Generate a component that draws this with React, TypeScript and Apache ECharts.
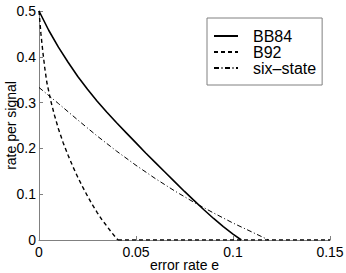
import React, { useEffect, useRef } from "react";
import * as echarts from "echarts";

// error rate e (x) and rate per signal (y)
const bb84X = [0, 0.005, 0.01, 0.015, 0.02, 0.025, 0.03, 0.035, 0.04, 0.045, 0.05, 0.055, 0.06, 0.065, 0.07, 0.075, 0.08, 0.085, 0.09, 0.095, 0.1, 0.1043];
const bb84Y = [0.5, 0.458, 0.421, 0.388, 0.357, 0.329, 0.303, 0.279, 0.256, 0.234, 0.212, 0.19, 0.169, 0.148, 0.127, 0.106, 0.086, 0.066, 0.047, 0.029, 0.013, 0];

const b92X = [0, 0.001, 0.002, 0.003, 0.004, 0.006, 0.008, 0.01, 0.0125, 0.015, 0.0175, 0.02, 0.0225, 0.025, 0.0275, 0.03, 0.0325, 0.035, 0.0375, 0.0407];
const b92Y = [0.5, 0.45, 0.41, 0.375, 0.345, 0.305, 0.272, 0.243, 0.212, 0.185, 0.16, 0.137, 0.116, 0.096, 0.077, 0.06, 0.044, 0.03, 0.016, 0];
const b92ZeroX = [0.0407, 0.15];
const b92ZeroY = [0, 0];

const sixX = [0, 0.01, 0.02, 0.03, 0.04, 0.05, 0.06, 0.07, 0.08, 0.09, 0.1, 0.11, 0.1184];
const sixY = [0.333, 0.298, 0.262, 0.227, 0.194, 0.163, 0.134, 0.107, 0.082, 0.059, 0.037, 0.017, 0];

const seriesNames = ["BB84", "B92", "six\u2013state"];
const xTicks = ["0", "0.05", "0.1", "0.15"];
const yTicks = ["0", "0.1", "0.2", "0.3", "0.4", "0.5"];

const zip = (xs: number[], ys: number[]) => xs.map((x, i) => [x, ys[i]]);

export default function App() {
  const ref = useRef<HTMLDivElement>(null);
  useEffect(() => {
    document.body.style.margin = "0";
    if (!ref.current) return;
    const chart = echarts.init(ref.current, null, { renderer: "svg" });
    const font = "'Liberation Sans', Arial, Helvetica, sans-serif";
    const axisColor = "#808080";
    const b92Style = { color: "#000", width: 1.4, type: [4, 3] };
    chart.setOption({
      animation: false,
      backgroundColor: "#ffffff",
      textStyle: { fontFamily: font },
      grid: {
        left: 39,
        right: 16,
        top: 11,
        bottom: 33,
        containLabel: false,
        outerBoundsMode: "none",
      },
      legend: {
        orient: "vertical",
        left: 207,
        top: 18,
        padding: [10, 6, 9, 6],
        itemWidth: 24,
        itemHeight: 14,
        itemGap: 0,
        borderColor: "#808080",
        borderWidth: 1,
        backgroundColor: "#ffffff",
        itemStyle: { opacity: 0 },
        textStyle: {
          fontSize: 16,
          lineHeight: 15,
          color: "#000",
          fontFamily: font,
          padding: [0, 0, 0, 10],
        },
        data: seriesNames,
      },
      xAxis: {
        type: "value",
        min: 0,
        max: 0.15,
        interval: 0.05,
        name: "error rate e",
        nameLocation: "middle",
        nameGap: 18,
        nameMoveOverlap: false,
        nameTextStyle: { fontSize: 14, color: "#000", fontFamily: font },
        axisLine: { lineStyle: { color: axisColor, width: 1 } },
        axisTick: { inside: true, length: 4, lineStyle: { color: axisColor } },
        axisLabel: {
          fontSize: 14,
          color: "#000",
          margin: 5,
          formatter: (v: number) => xTicks[Math.round(v / 0.05)] ?? "",
        },
        splitLine: { show: false },
      },
      yAxis: {
        type: "value",
        min: 0,
        max: 0.5,
        interval: 0.1,
        name: "rate per signal",
        nameLocation: "middle",
        nameGap: 21,
        nameMoveOverlap: false,
        nameTextStyle: { fontSize: 14, color: "#000", fontFamily: font },
        axisLine: { show: true, lineStyle: { color: axisColor, width: 1 } },
        axisTick: { show: true, inside: true, length: 4, lineStyle: { color: axisColor } },
        axisLabel: {
          fontSize: 14,
          color: "#000",
          margin: 3,
          formatter: (v: number) => yTicks[Math.round(v / 0.1)] ?? "",
        },
        splitLine: { show: false },
      },
      series: [
        {
          name: seriesNames[0],
          type: "line",
          data: zip(bb84X, bb84Y),
          symbol: "none",
          lineStyle: { color: "#000", width: 1.6, type: "solid" },
          itemStyle: { color: "#000" },
        },
        {
          name: seriesNames[1],
          type: "line",
          data: zip(b92X, b92Y),
          symbol: "none",
          lineStyle: b92Style,
          itemStyle: { color: "#000" },
        },
        {
          name: seriesNames[1],
          type: "line",
          data: zip(b92ZeroX, b92ZeroY),
          symbol: "none",
          lineStyle: b92Style,
          itemStyle: { color: "#000" },
        },
        {
          name: seriesNames[2],
          type: "line",
          data: zip(sixX, sixY),
          symbol: "none",
          lineStyle: { color: "#000", width: 1, type: [5, 2.5, 1, 2.5] },
          itemStyle: { color: "#000" },
        },
      ],
    });
    return () => chart.dispose();
  }, []);
  return <div ref={ref} style={{ width: 346, height: 273 }} />;
}
